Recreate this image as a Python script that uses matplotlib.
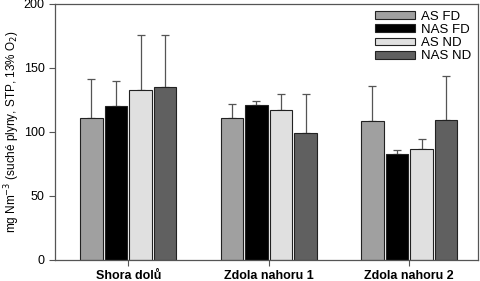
import matplotlib.pyplot as plt
import numpy as np

plt.rcParams['font.family'] = ['Liberation Sans', 'DejaVu Sans']

groups = ['Shora dolů', 'Zdola nahoru 1', 'Zdola nahoru 2']
series = ['AS FD', 'NAS FD', 'AS ND', 'NAS ND']
means = [
    [111, 111, 108.5],    # AS FD
    [120, 121, 83],       # NAS FD
    [132.5, 117, 86.5],   # AS ND
    [135, 99.5, 109],     # NAS ND
]
errs = [
    [30, 10.5, 27],
    [20, 3, 3],
    [43.5, 12.5, 8],
    [41, 30.5, 34.5],
]
colors = ['#a0a0a0', '#000000', '#e0e0e0', '#606060']

fig = plt.figure(figsize=(4.8, 2.81), dpi=100)
ax = fig.add_axes([0.115, 0.075, 0.881, 0.911])

x = np.arange(len(groups))
width = 0.16
step = 0.175
for i, name in enumerate(series):
    pos = x + (i - 1.5) * step
    ax.bar(pos, means[i], width, color=colors[i], edgecolor='#222222', linewidth=0.8,
           label=name, zorder=2)
    ax.errorbar(pos, means[i], yerr=[np.zeros(3), errs[i]], fmt='none',
                ecolor='#555555', elinewidth=0.9, capsize=3, capthick=0.9, zorder=1)

ax.set_xlim(-0.52, 2.49)
ax.set_ylim(0, 200)
ax.set_yticks([0, 50, 100, 150, 200])
ax.set_xticks(x)
ax.set_xticklabels(groups, fontsize=9, fontweight='bold')
ax.tick_params(axis='y', labelsize=9, length=4, color='#555555')
ax.tick_params(axis='x', length=4, color='#555555')
ax.set_ylabel('mg Nm$^{-3}$ (suché plyny, STP, 13% O$_2$)', fontsize=8.5, labelpad=1)
for s in ax.spines.values():
    s.set_color('#555555')
    s.set_linewidth(0.9)

ax.legend(loc='upper right', frameon=False, fontsize=9.5, handlelength=3.0,
          handleheight=0.5, labelspacing=0.1, borderaxespad=0.1, handletextpad=0.5)

plt.savefig('out.png', dpi=100)
